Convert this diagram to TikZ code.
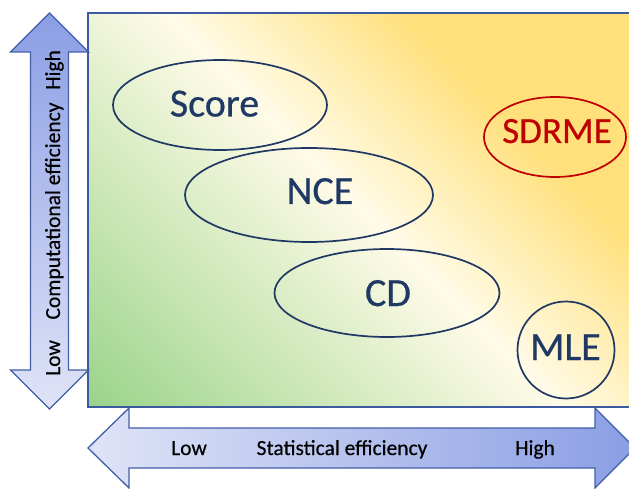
\documentclass[tikz,border=0pt]{standalone}
\usepackage{fontspec}
\setmainfont{Carlito}[FakeBold=0.4]
\newfontfamily\labelfont{Carlito}[FakeBold=0.5]
\usetikzlibrary{shapes.geometric}
\definecolor{bgG}{RGB}{155,212,138}
\definecolor{bgC}{RGB}{255,251,232}
\definecolor{bgY}{RGB}{255,224,122}
\definecolor{navy}{RGB}{31,56,100}
\definecolor{sdred}{RGB}{192,0,0}
\definecolor{arrowline}{RGB}{66,94,168}
\definecolor{arrowlight}{RGB}{224,228,247}
\definecolor{arrowdark}{RGB}{138,158,228}
\definecolor{framecol}{RGB}{60,90,160}
\pgfdeclarehorizontalshading{bgshade}{100bp}{color(0bp)=(bgG); color(15bp)=(bgG); color(50bp)=(bgC); color(68bp)=(bgY); color(100bp)=(bgY)}
\begin{document}
\begin{tikzpicture}[x=1pt,y=-1pt,
  method/.style={ellipse, draw=navy, line width=1.7pt, inner sep=0pt},
  methodtext/.style={anchor=base, text=navy, font=\labelfont\fontsize{40}{40}\selectfont, inner sep=0pt},
  axistext/.style={anchor=base, text=black, font=\fontsize{21.5}{22}\selectfont, inner sep=0pt},
  arrowshape/.style={draw=arrowline, line width=1.3pt, line join=miter}]
\useasboundingbox (0,0) rectangle (629,489);
% background panel
\shade[shading=bgshade, shading angle=45] (88,13) rectangle (640,407);
\draw[framecol, line width=2pt] (88,13) rectangle (640,407);
% axis arrows
\shadedraw[arrowshape, left color=arrowlight, right color=arrowdark]
  (88,448) -- (129,408) -- (129,428) -- (595,428) -- (595,408) -- (635,448)
  -- (595,488) -- (595,468) -- (129,468) -- (129,488) -- cycle;
\shadedraw[arrowshape, top color=arrowdark, bottom color=arrowlight]
  (49.5,13) -- (88.5,52) -- (68.5,52) -- (68.5,370) -- (88.5,370) -- (49.5,409)
  -- (10.5,370) -- (30.5,370) -- (30.5,52) -- (10.5,52) -- cycle;
% axis labels
\node[axistext] (xlow) at (189,455) {Low};
\node[axistext] (xlab) at (342,455) {Statistical efficiency};
\node[axistext] (xhigh) at (535,455) {High};
\node[axistext, rotate=90] (ylow) at (60,358) {Low};
\node[axistext, rotate=90] (ylab) at (60,211) {Computational efficiency};
\node[axistext, rotate=90] (yhigh) at (60,70) {High};
% methods
\node[method, minimum width=214pt, minimum height=90pt] (score) at (220,105) {};
\node[method, minimum width=248pt, minimum height=94pt] (nce) at (309,195) {};
\node[method, minimum width=225pt, minimum height=88pt] (cd) at (387,293) {};
\node[method, draw=sdred, minimum width=142pt, minimum height=80pt] (sdrme) at (555,137) {};
\node[circle, draw=navy, line width=1.7pt, minimum size=97pt, inner sep=0pt] (mle) at (566,350) {};
\node[methodtext] (scoret) at (214.5,116.5) {Score};
\node[methodtext] (ncet) at (320,204) {NCE};
\node[methodtext] (cdt) at (388,306) {CD};
\node[methodtext] (mlet) at (565.5,360) {MLE};
\node[methodtext, text=sdred, font=\labelfont\fontsize{37}{37}\selectfont] (sdrmet) at (557,143) {SDRME};
\end{tikzpicture}
\end{document}
